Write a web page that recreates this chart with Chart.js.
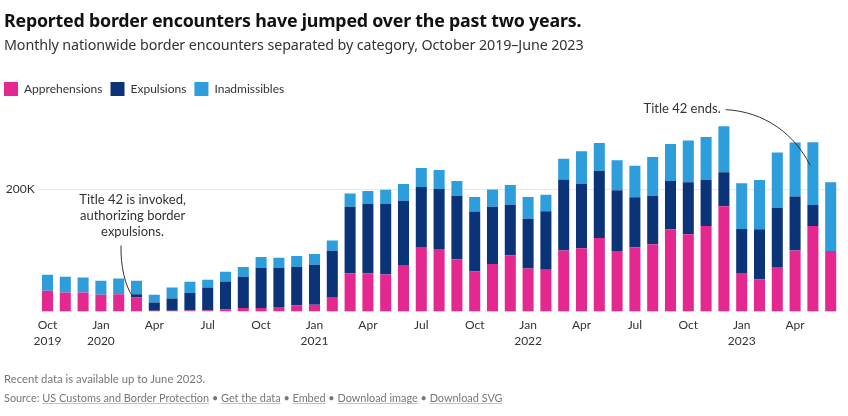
<!DOCTYPE html>
<html><head><meta charset="utf-8">
<script src="https://cdn.jsdelivr.net/npm/chart.js@4"></script>
<style>
html,body{margin:0;padding:0;background:#fff;width:848px;height:416px;overflow:hidden;font-family:Lato,sans-serif}
#wrap{position:absolute;left:0;top:0;width:848px;height:416px}
.t{position:absolute;left:4px;white-space:nowrap}
#title{top:8px;font:700 17.8px "Noto Sans",sans-serif;color:#111;letter-spacing:-.2px}
#sub{top:35px;font:400 14.3px "Noto Sans",sans-serif;color:#333;letter-spacing:-.1px}
#note{top:372px;font:400 11.3px Lato,sans-serif;color:#777}
#src{top:391px;font:400 10.9px Lato,sans-serif;color:#777}
#src a{color:#777;text-decoration:underline;text-decoration-color:#b9c6d2}
</style></head><body>
<div id="wrap"><canvas id="c" width="848" height="416"></canvas></div>
<div class="t" id="title">Reported border encounters have jumped over the past two years.</div>
<div class="t" id="sub">Monthly nationwide border encounters separated by category, October 2019–June 2023</div>
<div class="t" id="note">Recent data is available up to June 2023.</div>
<div class="t" id="src">Source: <a>US Customs and Border Protection</a> • <a>Get the data</a> • <a>Embed</a> • <a>Download image</a> • <a>Download SVG</a></div>
<script>
const months=["Oct 2019","Nov 2019","Dec 2019","Jan 2020","Feb 2020","Mar 2020","Apr 2020","May 2020","Jun 2020","Jul 2020","Aug 2020","Sep 2020","Oct 2020","Nov 2020","Dec 2020","Jan 2021","Feb 2021","Mar 2021","Apr 2021","May 2021","Jun 2021","Jul 2021","Aug 2021","Sep 2021","Oct 2021","Nov 2021","Dec 2021","Jan 2022","Feb 2022","Mar 2022","Apr 2022","May 2022","Jun 2022","Jul 2022","Aug 2022","Sep 2022","Oct 2022","Nov 2022","Dec 2022","Jan 2023","Feb 2023","Mar 2023","Apr 2023","May 2023","Jun 2023"];
const apprehensions=[34,31.2,31.2,27.4,28.4,23,1.2,1.2,1.6,1.6,3.8,6,6,7.7,9.9,11,24,62.4,62.4,60.8,75,105.6,102.4,85,65.7,77.7,91.5,70.6,68.5,100,103.5,120.4,99,105,110,134.7,126.5,139.7,172,63,53,72.8,100,139.7,99];
const expulsions=[0,0,0,0,0,5.4,13.6,20.2,29,37.8,45.5,51,65.7,64,63.6,65.7,75.6,109,113.9,115.5,106,98,98,104,98,93.7,83,81,95.3,116,105,109.6,99.2,82,79,78.9,85,75.6,55.9,71.8,81.7,97,88.2,34.5,0];
const inadmissibles=[26.3,25.8,24.6,23,25.8,22,12.7,18,18,12.7,16,15.8,17.4,16.4,17.4,17.4,16.4,21.4,20.9,23,27.4,31.2,31.2,24.6,23.5,28,32.4,35.7,27.3,33.8,53.7,45.5,49.3,51.4,63.6,60.3,68.3,70,75,75,80.5,90.4,88,102.4,112.4];
const tickLabels={0:["Oct","2019"],3:["Jan","2020"],6:["Apr",""],9:["Jul",""],12:["Oct",""],15:["Jan","2021"],18:["Apr",""],21:["Jul",""],24:["Oct",""],27:["Jan","2022"],30:["Apr",""],33:["Jul",""],36:["Oct",""],39:["Jan","2023"],42:["Apr",""]};
const invokedLines=["Title 42 is invoked,","authorizing border","expulsions."];
const invokedAnchor=[[4.78,183.5],[4.78,157],[4.78,130]];
const invokedCurve=[[4.13,108],[4.1,75],[4.35,42],[4.8,24]];
const endsLabel="Title 42 ends.";
const endsAnchor=[37.82,331];
const endsCurve=[[38.1,330],[40.3,327],[42,289],[42.84,239]];
const annotate={id:"annotate",afterDatasetsDraw(ch){
  const {ctx,scales:{x,y}}=ch;
  const P=p=>[x.getPixelForValue(p[0]),y.getPixelForValue(p[1])];
  const curve=c=>{const a=c.map(P);ctx.beginPath();ctx.moveTo(a[0][0],a[0][1]);ctx.bezierCurveTo(a[1][0],a[1][1],a[2][0],a[2][1],a[3][0],a[3][1]);ctx.stroke();};
  ctx.save();ctx.fillStyle="#333";ctx.strokeStyle="#333";ctx.lineWidth=1;
  ctx.font='400 13px Lato,sans-serif';ctx.textBaseline="middle";ctx.textAlign="center";
  invokedLines.forEach((s,i)=>{const p=P(invokedAnchor[i]);ctx.fillText(s,p[0],p[1]);});
  ctx.textAlign="right";const e=P(endsAnchor);ctx.fillText(endsLabel,e[0],e[1]);
  curve(invokedCurve);curve(endsCurve);ctx.restore();
}};
const common={barPercentage:.62,categoryPercentage:1,stack:"s",borderWidth:0};
new Chart(document.getElementById("c"),{type:"bar",plugins:[annotate],
 data:{labels:months,datasets:[
  {label:"Apprehensions",data:apprehensions,backgroundColor:"#e5288f",...common},
  {label:"Expulsions",data:expulsions,backgroundColor:"#0b3478",...common},
  {label:"Inadmissibles",data:inadmissibles,backgroundColor:"#2e9ddb",...common}]},
 options:{responsive:false,animation:false,
  layout:{padding:{top:74,left:-4,right:8.4,bottom:62}},
  plugins:{tooltip:{enabled:false},
   legend:{position:"top",align:"start",onClick:null,labels:{boxWidth:14,boxHeight:14,padding:8,color:"#333",font:{family:"Lato",size:12}}}},
  scales:{
   x:{stacked:true,grid:{display:false,drawTicks:false,tickLength:0},border:{display:false},
     ticks:{autoSkip:false,maxRotation:0,minRotation:0,padding:5,color:"#333",font:{family:"Lato",size:12,lineHeight:1.35},
       callback:(v,i)=>tickLabels[i]||""}},
   y:{stacked:true,min:0,max:336,
     afterFit(s){s.width=42.6;},
     afterBuildTicks(s){s.ticks=[{value:200}];},
     grid:{color:"#e8e8e8",lineWidth:1,drawTicks:false},border:{display:false},
     ticks:{padding:4,color:"#333",font:{family:"Lato",size:12},callback:v=>v/1+"K"}}
  }}});
</script>
</body></html>
